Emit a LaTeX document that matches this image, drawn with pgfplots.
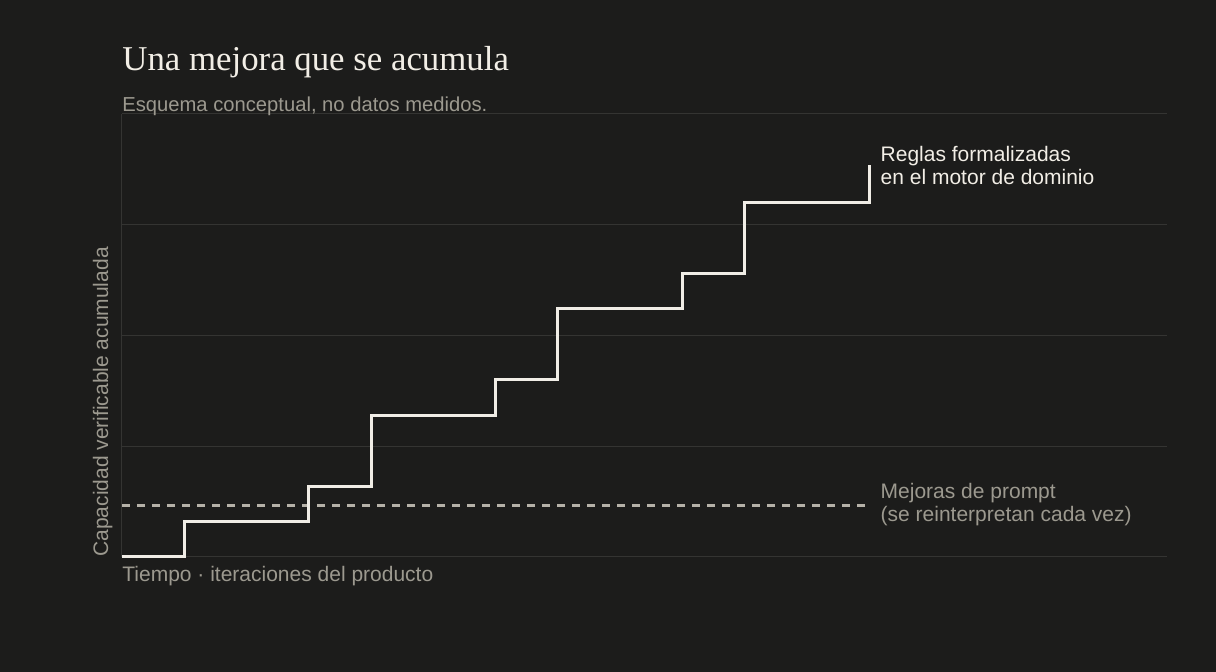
\documentclass[border=0pt]{standalone}
\usepackage{fontspec}
\setmainfont{Liberation Sans}
\newfontfamily\titlefont{Liberation Serif}
\usepackage{pgfplots}
\pgfplotsset{compat=1.18}
\definecolor{bgcol}{HTML}{1C1C1B}
\definecolor{gridcol}{HTML}{343432}
\definecolor{linecol}{HTML}{F0EDE6}
\definecolor{dashcol}{HTML}{B5B1A8}
\definecolor{subcol}{HTML}{9C998F}
\definecolor{titlecol}{HTML}{F2EEE6}

\begin{document}
\begin{tikzpicture}[x=0.5pt,y=0.5pt]
    % background, 1216 x 672 px at 0.5pt per px
    \fill[bgcol] (0,0) rectangle (1216,672);

    \begin{axis}[
        at={(61pt,57.5pt)},
        anchor=south west,
        scale only axis,
        width=522.5pt,
        height=221.5pt,
        xmin=0, xmax=16.78,
        ymin=0, ymax=100,
        ytick={0,25,...,100},
        yticklabels={},
        xtick=\empty,
        ymajorgrids,
        grid style={gridcol, line width=0.5pt},
        axis x line=none,
        axis y line*=left,
        axis line style={gridcol, line width=0.5pt, -},
        major tick length=0pt,
        clip=false,
    ]
    % prompt tweaks: flat level
    \addplot[dashcol, line width=1.4pt, dash pattern=on 4pt off 3.5pt] coordinates {
        (0,11.7) (12,11.7)
    };
    % domain rules: accumulated steps
    \addplot[linecol, line width=1.5pt, const plot] coordinates {
        (0,0) (1,8) (3,16) (4,32) (6,40) (7,56) (9,64) (10,80) (12,88.5)
    };

    \node[anchor=west, align=left, inner sep=0pt, xshift=5.5pt, text=titlecol, font=\fontsize{10.5}{11.5}\selectfont]
        at (axis cs:12,88.3) {Reglas formalizadas\\en el motor de dominio};
    \node[anchor=west, align=left, inner sep=0pt, xshift=5.5pt, text=subcol, font=\fontsize{10.5}{11.5}\selectfont]
        at (axis cs:12,11.9) {Mejoras de prompt\\(se reinterpretan cada vez)};
    \end{axis}

    \node[anchor=base west, inner sep=0pt, text=titlecol, font=\titlefont\fontsize{17.4}{19}\selectfont]
        at (122,601) {Una mejora que se acumula};
    \node[anchor=base west, inner sep=0pt, text=subcol, font=\fontsize{10.1}{11}\selectfont]
        at (122,560) {Esquema conceptual, no datos medidos.};
    \node[anchor=base west, inner sep=0pt, text=subcol, font=\fontsize{10.5}{11}\selectfont]
        at (122,90) {Tiempo · iteraciones del producto};
    \node[anchor=base west, rotate=90, inner sep=0pt, text=subcol, font=\fontsize{10.5}{11}\selectfont]
        at (108,115) {Capacidad verificable acumulada};
\end{tikzpicture}
\end{document}
